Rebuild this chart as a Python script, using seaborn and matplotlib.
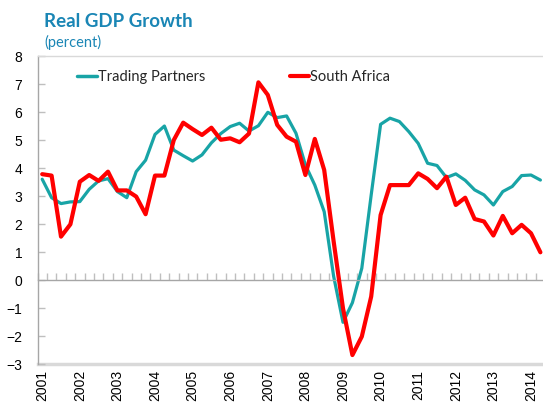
import numpy as np
import pandas as pd
import matplotlib
matplotlib.use("Agg")
import matplotlib.pyplot as plt
import seaborn as sns
from matplotlib.ticker import FixedLocator, NullLocator

# ---- data (quarterly, 2001Q1 .. 2014Q2) ----
start_year = 2001
n_quarters = 54
trading_partners = [3.61, 2.95, 2.74, 2.80, 2.81, 3.25, 3.55, 3.63, 3.17, 2.95,
                    3.88, 4.29, 5.21, 5.51, 4.65, 4.45, 4.26, 4.48, 4.91, 5.24,
                    5.49, 5.61, 5.33, 5.52, 6.00, 5.81, 5.87, 5.25, 4.12, 3.40,
                    2.45, 0.15, -1.50, -0.80, 0.43, 3.05, 5.57, 5.79, 5.67, 5.31,
                    4.89, 4.18, 4.10, 3.67, 3.80, 3.57, 3.23, 3.05, 2.69, 3.17,
                    3.35, 3.74, 3.76, 3.58]
south_africa = [3.79, 3.74, 1.56, 2.00, 3.52, 3.76, 3.55, 3.88, 3.21, 3.21,
                2.99, 2.36, 3.74, 3.74, 5.01, 5.63, 5.40, 5.19, 5.45, 5.02,
                5.07, 4.93, 5.24, 7.07, 6.62, 5.55, 5.13, 4.95, 3.76, 5.05,
                3.94, 1.40, -1.00, -2.67, -2.01, -0.58, 2.33, 3.40, 3.40, 3.40,
                3.82, 3.62, 3.29, 3.70, 2.69, 2.95, 2.19, 2.10, 1.60, 2.30,
                1.68, 1.98, 1.68, 1.00]
series_names = ["Trading Partners", "South Africa"]
year_labels = list(range(2001, 2015))
y_ticks = list(range(-3, 9))

quarters = start_year + np.arange(n_quarters) / 4.0
df = pd.DataFrame({
    "t": np.concatenate([quarters, quarters]),
    "value": trading_partners + south_africa,
    "series": [series_names[0]] * n_quarters + [series_names[1]] * n_quarters,
})

sns.set_theme(style="white")
plt.rcParams["font.family"] = ["Liberation Sans", "DejaVu Sans"]

W, H = 543, 407
fig = plt.figure(figsize=(W / 100, H / 100), dpi=100)
ax_left, ax_right = 37.5, 543.0
ax_top, ax_bot = 56.3, 364.3
ax = fig.add_axes([ax_left / W, 1 - ax_bot / H, (ax_right - ax_left) / W, (ax_bot - ax_top) / H])

palette = {"Trading Partners": "#18A4A6", "South Africa": "#FF0000"}
sns.lineplot(data=df, x="t", y="value", hue="series", palette=palette,
             ax=ax, legend=True)
for line in ax.get_lines():
    if line.get_label() == "South Africa" or line.get_color() in ("#FF0000", "#ff0000"):
        pass
lines = ax.get_lines()
lines[0].set_linewidth(2.3)
lines[1].set_linewidth(3.0)
lines[1].set_zorder(3)

ax.set_ylim(-3, 8)
ax.set_xlim(2000.875, 2000.875 + (ax_right - ax_left) / 37.6)
ax.set_xlabel("")
ax.set_ylabel("")

# spines
ax.spines["right"].set_visible(False)
ax.spines["top"].set_color("#D9D9D9")
ax.spines["top"].set_linewidth(1.0)
ax.spines["left"].set_color("#A6A6A6")
ax.spines["left"].set_linewidth(1.0)
ax.spines["bottom"].set_position(("data", 0))
ax.spines["bottom"].set_color("#A6A6A6")
ax.spines["bottom"].set_linewidth(1.0)

# y ticks
ax.yaxis.set_major_locator(FixedLocator(y_ticks))
ax.tick_params(axis="y", direction="in", length=5, width=1, color="#BFBFBF",
               labelsize=10, labelcolor="black", pad=11, left=True)

# quarter ticks on the zero line
ax.xaxis.set_major_locator(NullLocator())
ax.xaxis.set_minor_locator(FixedLocator(np.arange(n_quarters + 1) / 4.0 + start_year - 0.125))
ax.tick_params(axis="x", which="minor", direction="in", length=5, width=1,
               color="#BFBFBF", bottom=True, labelbottom=False)

# year labels at bottom
sec = ax.secondary_xaxis("bottom")
sec.set_xticks(year_labels)
sec.set_xticklabels([str(y) for y in year_labels], rotation=90)
sec.tick_params(axis="x", length=0, pad=4, labelsize=10, labelcolor="black")
sec.spines["bottom"].set_color("#D9D9D9")
sec.spines["bottom"].set_linewidth(2.5)

# legend
handles, labels = ax.get_legend_handles_labels()
for h in handles:
    h.set_linewidth(3.0 if h.get_label() == "South Africa" else 2.5)
fs = 10.5
ax.legend(handles, labels, ncol=2, frameon=False, loc="center left",
          bbox_to_anchor=((77.3 - ax_left) / (ax_right - ax_left), (ax_bot - 77.3) / (ax_bot - ax_top)),
          borderpad=0, borderaxespad=0, handlelength=1.35, handletextpad=0.05,
          columnspacing=5.8, prop={"family": "Lato", "size": fs}, labelcolor="#262626")

# titles
fig.text(44 / W, 1 - 26.7 / H, "Real GDP Growth", fontsize=13.5, fontweight="bold",
         family="Lato", color="#1A86B5", va="baseline", ha="left")
fig.text(44 / W, 1 - 47.5 / H, "(percent)", fontsize=10.5,
         family="Lato", color="#1A86B5", va="baseline", ha="left")

fig.savefig("out.png", dpi=100)
